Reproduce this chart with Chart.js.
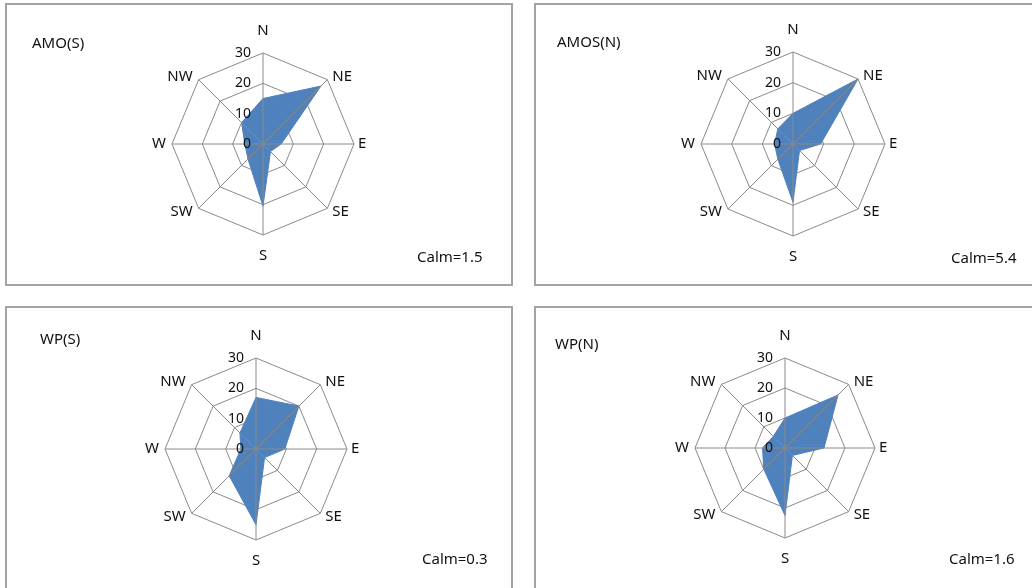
<!DOCTYPE html>
<html>
<head>
<meta charset="utf-8">
<script src="https://cdn.jsdelivr.net/npm/chart.js@4/dist/chart.umd.min.js"></script>
<style>
html,body{margin:0;padding:0;background:#fff;}
body{width:1032px;height:588px;position:relative;overflow:hidden;font-family:"Noto Sans",sans-serif;color:#111;}
.panel{position:absolute;box-sizing:border-box;border:2px solid #a3a3a3;background:#fff;}
canvas{position:absolute;left:0;top:0;pointer-events:none;}
.txt{position:absolute;font-size:15px;line-height:20px;white-space:nowrap;color:#111;}
</style>
</head>
<body>
<div class="panel" style="left:5px;top:3px;width:508px;height:283px"></div>
<div class="panel" style="left:534px;top:3px;width:520px;height:283px"></div>
<div class="panel" style="left:5px;top:306px;width:508px;height:300px"></div>
<div class="panel" style="left:534px;top:306px;width:520px;height:300px"></div>
<canvas id="c0" width="1032" height="588"></canvas>
<canvas id="c1" width="1032" height="588"></canvas>
<canvas id="c2" width="1032" height="588"></canvas>
<canvas id="c3" width="1032" height="588"></canvas>
<div id="texts"></div>
<script>
// ---- data ----
const directions = ['N', 'NE', 'E', 'SE', 'S', 'SW', 'W', 'NW'];
const tickValues = [0, 10, 20, 30];
const amoS  = [15, 27, 6, 3.5, 20.5, 7, 6, 10];
const amosN = [10, 30, 9, 3, 19, 7, 6, 7];
const wpS   = [17, 20, 9.5, 4, 25, 12.5, 5, 7.5];
const wpN   = [10, 25, 13, 3.5, 22.5, 10, 7.5, 5.5];
const panelNames = ['AMO(S)', 'AMOS(N)', 'WP(S)', 'WP(N)'];
const calmValues = [1.5, 5.4, 0.3, 1.6];

// ---- layout / style ----
const W = 1032, H = 588;
const GRID = '#8a8a8a';
const FILL = '#4F81BD';
const geometry = [
  {cx: 263, cy: 144, r: 91, title: [32, 32], calm: [417, 246]},
  {cx: 793, cy: 144, r: 92, title: [557, 31], calm: [951, 247]},
  {cx: 256, cy: 449, r: 91, title: [40, 328], calm: [422, 548]},
  {cx: 785, cy: 448, r: 90, title: [555, 333], calm: [949, 548]}
];
const labelOffsets = [
  [0, -22, 'center'], [5, -3, 'left'], [4, 0, 'left'], [5, 3, 'left'],
  [0, 21, 'center'], [-6, 3, 'right'], [-6, 0, 'right'], [-6, -3, 'right']
];

const overlay = {
  id: 'overlay',
  afterDatasetsDraw(chart) {
    const s = chart.scales.r;
    const ctx = chart.ctx;
    ctx.save();
    // spokes drawn above the fill
    ctx.strokeStyle = GRID;
    ctx.lineWidth = 1;
    ctx.beginPath();
    directions.forEach((d, i) => {
      const p = s.getPointPosition(i, s.drawingArea);
      ctx.moveTo(s.xCenter, s.yCenter);
      ctx.lineTo(p.x, p.y);
    });
    ctx.stroke();
    // value ticks
    ctx.fillStyle = '#111';
    ctx.font = '14px "Noto Sans"';
    ctx.textAlign = 'right';
    ctx.textBaseline = 'middle';
    tickValues.forEach(v => {
      const d = s.getDistanceFromCenterForValue(v);
      ctx.fillText(String(v), s.xCenter - 12, s.yCenter - d);
    });
    // direction labels
    ctx.font = '15px "Noto Sans"';
    directions.forEach((d, i) => {
      const p = s.getPointPosition(i, s.drawingArea);
      const o = labelOffsets[i];
      ctx.textAlign = o[2];
      ctx.fillText(d, p.x + o[0], p.y + o[1]);
    });
    ctx.restore();
  }
};

const seriesList = [amoS, amosN, wpS, wpN];
seriesList.forEach((vals, k) => {
  const g = geometry[k];
  new Chart(document.getElementById('c' + k), {
    type: 'radar',
    data: {
      labels: directions,
      datasets: [{
        label: panelNames[k],
        data: vals,
        backgroundColor: FILL,
        borderColor: FILL,
        borderWidth: 1,
        pointRadius: 0,
        fill: true,
        tension: 0
      }]
    },
    options: {
      responsive: false,
      animation: false,
      events: [],
      layout: {padding: {left: g.cx - g.r, top: g.cy - g.r, right: W - g.cx - g.r, bottom: H - g.cy - g.r}},
      plugins: {legend: {display: false}, tooltip: {enabled: false}},
      scales: {
        r: {
          min: 0, max: 30,
          ticks: {display: false, stepSize: 10},
          pointLabels: {display: false},
          angleLines: {display: false},
          grid: {color: GRID, lineWidth: 1, circular: false}
        }
      }
    },
    plugins: [overlay]
  });
  const t = document.createElement('div');
  t.className = 'txt';
  t.style.left = g.title[0] + 'px';
  t.style.top = g.title[1] + 'px';
  t.textContent = panelNames[k];
  document.getElementById('texts').appendChild(t);
  const c = document.createElement('div');
  c.className = 'txt';
  c.style.left = g.calm[0] + 'px';
  c.style.top = g.calm[1] + 'px';
  c.textContent = 'Calm=' + calmValues[k];
  document.getElementById('texts').appendChild(c);
});
</script>
</body>
</html>
